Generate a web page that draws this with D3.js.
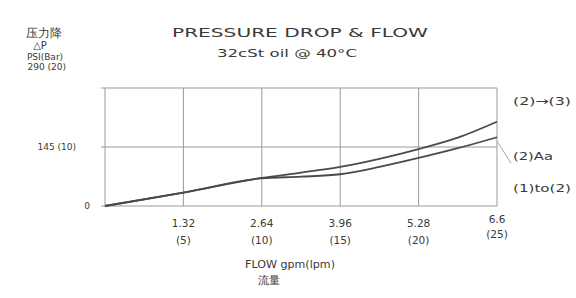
<!DOCTYPE html>
<html>
<head>
<meta charset="utf-8">
<script src="https://cdn.jsdelivr.net/npm/d3@7"></script>
<style>
  body { margin: 0; background: #fff; }
  text { font-family: "DejaVu Sans", sans-serif; fill: #3a3a3a; }
</style>
</head>
<body>
<div id="chart"></div>
<script>
// data (gpm, psi)
var flowGpm = [0, 1.32, 2.64, 3.3, 3.96, 4.62, 5.28, 5.94, 6.6]
var dropUpper = [0, 33, 69, 82, 96, 116, 140, 168, 207]   // (2)->(3)
var dropLower = [0, 33, 68, 72, 78, 96, 118, 142, 169]    // (2)Aa
var xTicks = [1.32, 2.64, 3.96, 5.28, 6.6]
var xTickLpm = ["(5)", "(10)", "(15)", "(20)", "(25)"]
var yTicks = [0, 145, 290]
var yTickLabels = ["0", "145 (10)", "290 (20)"]
var seriesLabels = ["(2)\u2192(3)", "(2)Aa", "(1)to(2)"]

var width = 576, height = 298
var svg = d3.select("#chart").append("svg")
    .attr("width", width)
    .attr("height", height)

var x = d3.scaleLinear().domain([0, 6.6]).range([105, 497])
var y = d3.scaleLinear().domain([0, 290]).range([206, 88])

//grid
svg.append("g").selectAll("line")
    .data(xTicks)
    .enter().append("line")
    .attr("x1", d => x(d)).attr("x2", d => x(d))
    .attr("y1", y(290)).attr("y2", y(0))
    .style("stroke", "#9a9a9a").style("stroke-width", 1)

svg.append("g").selectAll("line")
    .data(yTicks)
    .enter().append("line")
    .attr("x1", x(0) - 4).attr("x2", x(6.6))
    .attr("y1", d => y(d)).attr("y2", d => y(d))
    .style("stroke", "#9a9a9a").style("stroke-width", 1)

svg.append("line")
    .attr("x1", x(0)).attr("x2", x(0))
    .attr("y1", y(290)).attr("y2", y(0))
    .style("stroke", "#9a9a9a")

//curves
var line = d3.line().x((d, i) => x(flowGpm[i])).y(d => y(d)).curve(d3.curveMonotoneX)
svg.append("path").datum(dropUpper).attr("d", line)
    .style("fill", "none").style("stroke", "#4a4a4a").style("stroke-width", 1.8)
svg.append("path").datum(dropLower).attr("d", line)
    .style("fill", "none").style("stroke", "#4a4a4a").style("stroke-width", 1.8)

//leader line from lower curve
svg.append("line")
    .attr("x1", x(6.6)).attr("y1", y(dropLower[dropLower.length - 1]) + 4)
    .attr("x2", x(6.6) + 14).attr("y2", y(dropLower[dropLower.length - 1]) + 26)
    .style("stroke", "#aaa")

//y tick labels
svg.append("g").selectAll("text")
    .data(yTicks)
    .enter().append("text")
    .attr("x", (d, i) => i == 2 ? 66 : (i == 1 ? 76 : 90))
    .attr("y", (d, i) => i == 2 ? 70 : y(d) + 3)
    .attr("text-anchor", "end")
    .attr("font-size", "9px")
    .text((d, i) => yTickLabels[i])

//x tick labels
svg.append("g").selectAll("text")
    .data(xTicks)
    .enter().append("text")
    .attr("x", d => x(d))
    .attr("y", (d, i) => i == 4 ? 223 : 227)
    .attr("text-anchor", "middle")
    .attr("font-size", "10.5px")
    .text(d => d)

svg.append("g").selectAll("text")
    .data(xTicks)
    .enter().append("text")
    .attr("x", d => x(d))
    .attr("y", (d, i) => i == 4 ? 238 : 244)
    .attr("text-anchor", "middle")
    .attr("font-size", "10.5px")
    .text((d, i) => xTickLpm[i])

//axis titles
svg.append("text").attr("x", 44).attr("y", 37).attr("text-anchor", "middle")
    .attr("font-size", "12px").attr("font-family", "Noto Sans CJK SC").text("压力降")
svg.append("text").attr("x", 40).attr("y", 49).attr("text-anchor", "middle")
    .attr("font-size", "10px").text("\u25B3P")
svg.append("text").attr("x", 45).attr("y", 60).attr("text-anchor", "middle")
    .attr("font-size", "9px").text("PSI(Bar)")

svg.append("text").attr("x", 290).attr("y", 268).attr("text-anchor", "middle")
    .attr("font-size", "11px").attr("textLength", 90).attr("lengthAdjust", "spacingAndGlyphs")
    .text("FLOW gpm(lpm)")
svg.append("text").attr("x", 269).attr("y", 284).attr("text-anchor", "middle")
    .attr("font-size", "11px").attr("font-family", "Noto Sans CJK SC").text("流量")

//title
svg.append("text").attr("x", 172).attr("y", 37)
    .attr("font-size", "13px").attr("textLength", 256).attr("lengthAdjust", "spacingAndGlyphs")
    .text("PRESSURE DROP & FLOW")
svg.append("text").attr("x", 217).attr("y", 57)
    .attr("font-size", "11px").attr("textLength", 140).attr("lengthAdjust", "spacingAndGlyphs")
    .text("32cSt oil @ 40\u00B0C")

//series labels
svg.append("g").selectAll("text")
    .data(seriesLabels)
    .enter().append("text")
    .attr("x", 513)
    .attr("y", (d, i) => [105, 160, 192][i])
    .attr("font-size", "11px")
    .attr("textLength", (d, i) => [58, 40, 58][i])
    .attr("lengthAdjust", "spacingAndGlyphs")
    .text(d => d)
</script>
</body>
</html>
